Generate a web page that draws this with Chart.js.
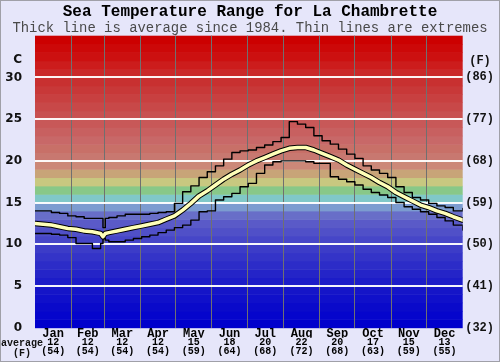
<!DOCTYPE html>
<html>
<head>
<meta charset="utf-8">
<title>Sea Temperature Range for La Chambrette</title>
<script src="https://cdn.jsdelivr.net/npm/chart.js@4/dist/chart.umd.min.js"></script>
<style>
  html, body { margin: 0; padding: 0; background: #e6e6fa; overflow: hidden; }
  canvas { display: block; }
</style>
</head>
<body>
<canvas id="chart" width="500" height="362"></canvas>
<script>
// day-of-year sample points
const days = [0, 7, 14, 21, 28, 35, 42, 49, 56, 58, 60, 63, 70, 77, 84, 91, 98, 105, 112, 119,
  126, 133, 140, 147, 154, 161, 168, 175, 182, 189, 196, 203, 210, 217, 224, 231, 238, 245, 252, 259,
  266, 273, 280, 287, 294, 301, 308, 315, 322, 329, 336, 343, 350, 357, 365];

const avgTemp = [12.5, 12.4, 12.3, 12.1, 11.9, 11.8, 11.6, 11.5, 11.3, 10.9, 11.3, 11.4, 11.6, 11.8, 12.0, 12.2, 12.4, 12.6, 13.0, 13.4,
  14.1, 14.9, 15.8, 16.4, 17.1, 17.8, 18.4, 18.9, 19.5, 20.0, 20.4, 20.8, 21.2, 21.5, 21.6, 21.6, 21.3, 20.9, 20.5, 20.1,
  19.5, 19.0, 18.5, 18.0, 17.4, 16.9, 16.2, 15.7, 15.2, 14.7, 14.4, 14.0, 13.7, 13.3, 12.9];

const maxTemp = [14.0, 14.0, 13.8, 13.7, 13.4, 13.3, 13.1, 13.1, 13.1, 12.0, 13.1, 13.2, 13.4, 13.6, 13.6, 13.6, 13.7, 13.8, 13.9, 14.9,
  16.3, 17.0, 18.0, 18.7, 19.4, 20.2, 21.0, 21.2, 21.3, 21.6, 21.9, 22.3, 22.8, 24.7, 24.4, 24.0, 23.0, 22.4, 22.0, 21.4,
  20.8, 20.3, 19.4, 18.9, 18.5, 18.0, 16.9, 16.2, 15.6, 15.3, 14.9, 14.6, 14.4, 14.0, 14.3];

const minTemp = [11.3, 11.3, 11.2, 11.1, 10.8, 10.1, 10.1, 9.5, 10.1, 10.7, 10.5, 10.3, 10.3, 10.5, 10.7, 10.9, 11.1, 11.4, 11.7, 12.0,
  12.3, 12.9, 13.9, 14.0, 15.3, 15.7, 16.1, 16.9, 17.3, 18.5, 19.5, 19.9, 20.0, 20.0, 20.0, 19.9, 19.7, 19.7, 18.1, 17.8,
  17.5, 17.1, 16.6, 16.2, 15.9, 15.6, 15.0, 14.5, 14.2, 13.9, 13.6, 13.2, 12.8, 12.3, 11.7];

const monthNames = ['Jan', 'Feb', 'Mar', 'Apr', 'May', 'Jun', 'Jul', 'Aug', 'Sep', 'Oct', 'Nov', 'Dec'];
const monthStarts = [0, 31, 59, 90, 120, 151, 181, 212, 243, 273, 304, 334, 365];
const monthAvgC = [12, 12, 12, 12, 15, 18, 20, 22, 20, 17, 15, 13];
const monthAvgF = [54, 54, 54, 54, 59, 64, 68, 72, 68, 63, 59, 55];
const yTicks = [0, 5, 10, 15, 20, 25, 30];

// one colour per degree band, 0-1 at the bottom up to 34-35
const bandColors = [
  '#0000cc', '#0505cc', '#0a0aca', '#1010ca', '#1515c8', '#1c1cc8', '#2424c8', '#2c2cc8', '#3434c8', '#3c3cc8',
  '#4646c8', '#5050c8', '#5a5ac8', '#686ec8', '#7c9cd0', '#80c8c8', '#88c888', '#c8c880', '#c8a478', '#cc8878',
  '#c87870', '#c87068', '#c86868', '#c86060', '#c85858', '#c85050', '#c84848', '#c84040', '#c83838', '#c83030',
  '#ca2828', '#cc1c1c', '#cc1010', '#cc0808', '#cc0000'];

const MONO = '"Liberation Mono", "Courier New", monospace';
const SANS = '"DejaVu Sans", Verdana, sans-serif';
const PAGE_BG = '#e6e6fa';

const monthMids = monthNames.map((m, i) => (monthStarts[i] + monthStarts[i + 1]) / 2);
const pts = (arr) => days.map((d, i) => ({ x: d, y: arr[i] }));
const toF = (c) => Math.round(c * 9 / 5 + 32);

const bands = {
  id: 'bands',
  beforeDraw(chart) {
    const { ctx, chartArea: a, scales: { y } } = chart;
    ctx.save();
    ctx.fillStyle = PAGE_BG;
    ctx.fillRect(0, 0, chart.width, chart.height);
    bandColors.forEach((col, i) => {
      const top = y.getPixelForValue(i + 1);
      const bot = y.getPixelForValue(i);
      ctx.fillStyle = col;
      ctx.fillRect(a.left, top, a.right - a.left, bot - top + 0.5);
    });
    ctx.restore();
  },
  afterDraw(chart) {
    const { ctx, scales: { y } } = chart;
    const yc = y.getPixelForValue(32.1);
    ctx.save();
    ctx.fillStyle = '#111';
    ctx.textBaseline = 'middle';
    ctx.font = 'bold 12px ' + SANS;
    ctx.textAlign = 'right';
    ctx.fillText('C', 22, yc);
    ctx.font = 'bold 12px ' + MONO;
    ctx.textAlign = 'center';
    ctx.fillText('(F)', 480, yc + 1.5);
    ctx.font = 'bold 10px ' + MONO;
    ctx.textAlign = 'left';
    ctx.fillText('average', 1, 343.5);
    ctx.textAlign = 'center';
    ctx.fillText('(F)', 22, 353);
    // thin frame round the picture
    ctx.strokeStyle = '#a0a0a8';
    ctx.lineWidth = 1;
    ctx.strokeRect(0.5, 0.5, chart.width - 1, chart.height - 1);
    ctx.restore();
  },
};

new Chart(document.getElementById('chart'), {
  type: 'line',
  data: {
    datasets: [
      { label: 'Average', data: pts(avgTemp), borderColor: '#ffffb8', borderWidth: 3.5, order: 0 },
      { label: 'Average edge', data: pts(avgTemp), borderColor: '#000', borderWidth: 5.5, order: 1 },
      { label: 'Highest', data: pts(maxTemp), borderColor: '#000', borderWidth: 1.4, stepped: true, order: 2 },
      { label: 'Lowest', data: pts(minTemp), borderColor: '#000', borderWidth: 1.4, stepped: true, order: 2 },
    ],
  },
  options: {
    responsive: false,
    animation: false,
    devicePixelRatio: 1,
    layout: { padding: 0 },
    elements: { point: { radius: 0 }, line: { tension: 0, borderCapStyle: 'round', borderJoinStyle: 'round' } },
    plugins: {
      legend: { display: false },
      tooltip: { enabled: false },
      title: {
        display: true,
        text: 'Sea Temperature Range for La Chambrette',
        color: '#000',
        font: { family: MONO, size: 16, weight: 'bold', lineHeight: 1 },
        padding: { top: 4, bottom: 0 },
      },
      subtitle: {
        display: true,
        text: 'Thick line is average since 1984. Thin lines are extremes',
        color: '#4a4a4a',
        font: { family: MONO, size: 13.9, lineHeight: 1 },
        padding: { top: 1.4, bottom: 0.4 },
      },
    },
    scales: {
      x: {
        type: 'linear', min: 0, max: 365, position: 'bottom', weight: 0,
        afterBuildTicks: (a) => { a.ticks = monthStarts.map((v) => ({ value: v })); },
        grid: {
          color: (c) => (c.index === 0 || c.index === monthStarts.length - 1) ? 'rgba(0,0,0,0)' : '#707070',
          lineWidth: 1, drawTicks: false,
        },
        border: { display: false },
        ticks: { display: false },
        afterFit: (a) => { a.height = 0; },
      },
      xMonth: {
        type: 'linear', min: 0, max: 365, position: 'bottom', weight: 1,
        afterBuildTicks: (a) => { a.ticks = monthMids.map((v) => ({ value: v })); },
        grid: { display: false, drawTicks: false },
        border: { display: false },
        ticks: {
          autoSkip: false, maxRotation: 0, padding: 0, color: '#000',
          font: { family: MONO, size: 12, weight: 'bold', lineHeight: 1 },
          callback: (v, i) => monthNames[i],
        },
        afterFit: (a) => { a.height = 10; },
      },
      xAvg: {
        type: 'linear', min: 0, max: 365, position: 'bottom', weight: 2,
        afterBuildTicks: (a) => { a.ticks = monthMids.map((v) => ({ value: v })); },
        grid: { display: false, drawTicks: false },
        border: { display: false },
        ticks: {
          autoSkip: false, maxRotation: 0, padding: 0, color: '#000',
          font: { family: MONO, size: 10, weight: 'bold', lineHeight: 0.95 },
          callback: (v, i) => [String(monthAvgC[i]), '(' + monthAvgF[i] + ')'],
        },
        afterFit: (a) => { a.height = 24.3; },
      },
      y: {
        min: 0, max: 35, position: 'left',
        afterBuildTicks: (a) => { a.ticks = yTicks.map((v) => ({ value: v })); },
        grid: {
          color: (c) => (c.tick && c.tick.value === 0) ? 'rgba(0,0,0,0)' : 'rgba(255,255,255,0.95)',
          lineWidth: 2, drawTicks: false,
        },
        border: { display: false },
        ticks: { padding: 13, color: '#111', font: { family: SANS, size: 12, weight: 'bold' } },
        afterFit: (a) => { a.width = 35; },
      },
      y2: {
        min: 0, max: 35, position: 'right',
        afterBuildTicks: (a) => { a.ticks = yTicks.map((v) => ({ value: v })); },
        grid: { display: false, drawTicks: false },
        border: { display: false },
        ticks: {
          padding: 2.5, color: '#111',
          font: { family: MONO, size: 12, weight: 'bold' },
          callback: (v) => '(' + toF(v) + ')',
        },
        afterFit: (a) => { a.width = 37.3; },
      },
    },
  },
  plugins: [bands],
});
</script>
</body>
</html>
